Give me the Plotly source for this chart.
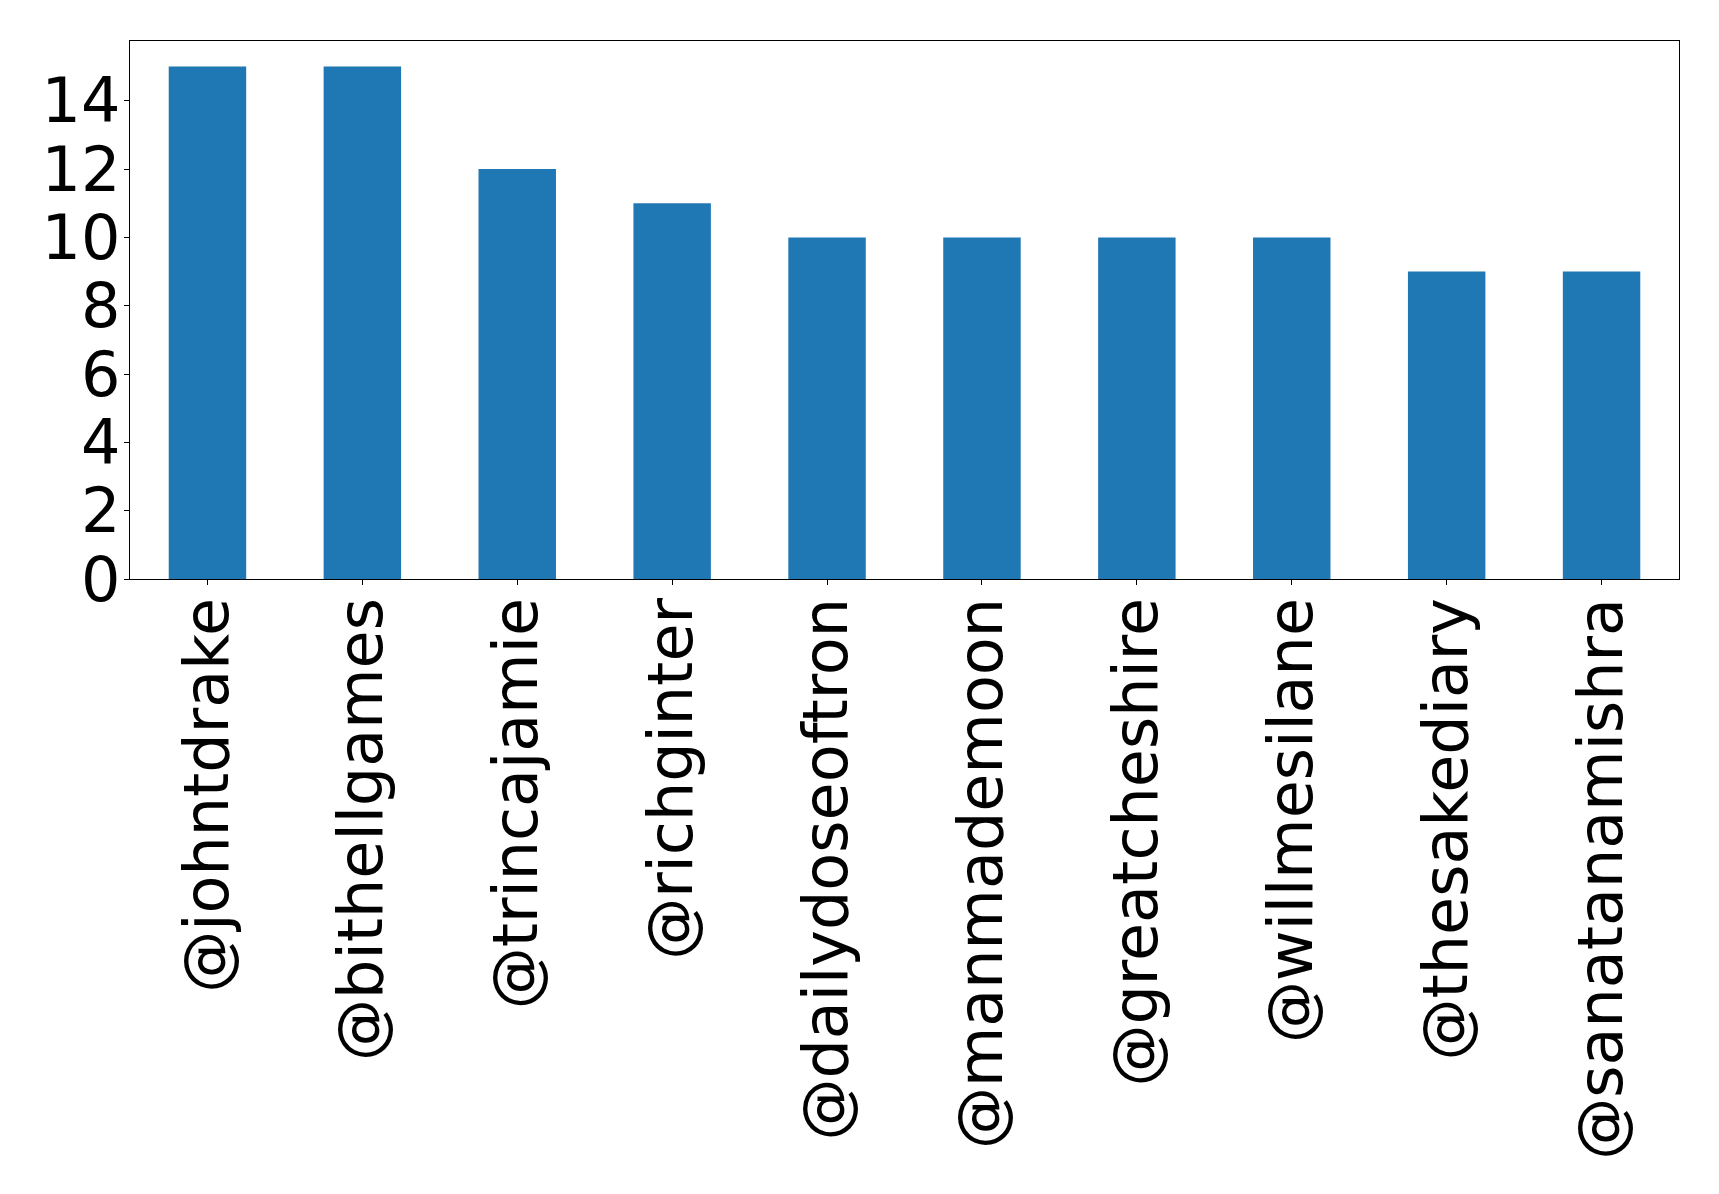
import plotly.graph_objects as go

users = ["@johntdrake", "@bithellgames", "@trincajamie", "@richginter", "@dailydoseoftron",
         "@manmademoon", "@greatcheshire", "@willmesilane", "@thesakediary", "@sanatanamishra"]
counts = [15, 15, 12, 11, 10, 10, 10, 10, 9, 9]
y_ticks = [0, 2, 4, 6, 8, 10, 12, 14]

fig = go.Figure(go.Bar(x=list(range(len(users))), y=counts, width=0.5,
                       marker=dict(color="#1f77b4", line=dict(width=0))))

font = dict(family="DejaVu Sans", size=62, color="black")
fig.update_layout(
    width=1711, height=1186,
    margin=dict(l=121.5, r=39.5, t=32.5, b=615),
    plot_bgcolor="white", paper_bgcolor="white",
    showlegend=False,
    font=font,
)
fig.update_xaxes(range=[-0.5, 9.5], tickmode="array", tickvals=list(range(len(users))),
                 ticktext=users, tickangle=-90, showline=True, linecolor="black", linewidth=1.3,
                 mirror=True, ticks="outside", ticklen=5, tickcolor="black", showgrid=False,
                 zeroline=False, tickfont=font, ticklabelstandoff=-12)
fig.update_yaxes(range=[0, 15.75], tickmode="array", tickvals=y_ticks,
                 showline=True, linecolor="black", linewidth=1.3,
                 mirror=True, ticks="outside", ticklen=5, tickcolor="black", showgrid=False,
                 zeroline=False, tickfont=font, ticklabelstandoff=-9)
fig.write_html("out.html")
